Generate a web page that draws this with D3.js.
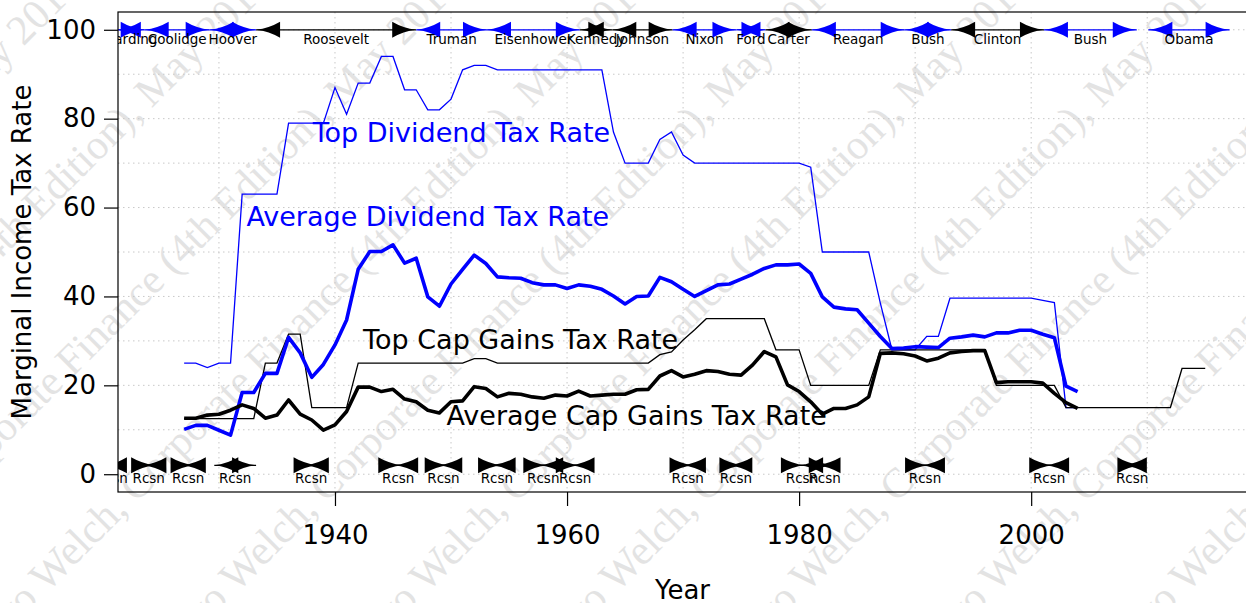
<!DOCTYPE html>
<html>
<head>
<meta charset="utf-8">
<script src="https://cdn.jsdelivr.net/npm/d3@7"></script>
<style>
  body { margin: 0; background: #fff; }
  svg { display: block; font-family: "DejaVu Sans", sans-serif; }
</style>
</head>
<body>
<div id="chart"></div>
<script>
// ---- data ----
const avgStartYear = 1927
const topDivRate = [25, 25, 24, 25, 25, 63, 63, 63, 63, 79, 79, 79, 79, 87, 81, 88, 88, 94, 94, 86.5,
  86.5, 82, 82, 84.4, 91, 92, 92, 91, 91, 91, 91, 91, 91, 91, 91, 91, 91, 77, 70, 70,
  70, 75.3, 77, 71.8, 70, 70, 70, 70, 70, 70, 70, 70, 70, 70, 69.1, 50, 50, 50, 50, 50,
  38.5, 28, 28, 28, 31, 31, 39.6, 39.6, 39.6, 39.6, 39.6, 39.6, 39.6, 39.6, 39.1, 38.6, 15, 15]
const avgDivRate = [10.1, 11.0, 11.0, 9.9, 8.8, 18.4, 18.4, 22.7, 22.7, 30.8, 27.3, 21.8, 24.7, 29.1, 34.7, 46.1, 50.1, 50.1, 51.6, 47.5,
  48.6, 39.9, 37.8, 42.8, 46.1, 49.3, 47.4, 44.4, 44.2, 44.1, 43.1, 42.6, 42.6, 41.8, 42.6, 42.3, 41.6, 40.1, 38.3, 40.0,
  40.1, 44.3, 43.3, 41.6, 40.0, 41.3, 42.6, 42.8, 43.9, 45.0, 46.3, 47.1, 47.1, 47.3, 45.2, 39.9, 37.6, 37.2, 37.0, 34.0,
  31.0, 28.3, 28.4, 28.7, 28.6, 28.5, 30.6, 30.9, 31.3, 30.9, 31.8, 31.8, 32.4, 32.4, 31.5, 30.7, 19.8, 18.6]
const topCapGainsRate = [12.5, 12.5, 12.5, 12.5, 12.5, 12.5, 12.5, 25, 25, 31.5, 31.5, 15, 15, 15, 15, 25, 25, 25, 25, 25,
  25, 25, 25, 25, 25, 26, 26, 25, 25, 25, 25, 25, 25, 25, 25, 25, 25, 25, 25, 25,
  25, 26.9, 27.5, 30.2, 32.5, 35, 35, 35, 35, 35, 35, 28, 28, 28, 20, 20, 20, 20, 20, 20,
  28, 28, 28, 28, 28, 28, 28, 28, 28, 28, 20, 20, 20, 20, 20, 20, 15, 15, 15, 15,
  15, 15, 15, 15, 15, 15, 23.8, 23.8, 23.8]
const avgCapGainsRate = [12.6, 12.6, 13.3, 13.5, 14.4, 15.6, 14.8, 12.6, 13.3, 16.7, 13.5, 12.2, 9.9, 11.1, 14.1, 19.6, 19.6, 18.6, 19.1, 16.9,
  16.3, 14.4, 13.8, 16.3, 16.5, 19.7, 19.3, 17.4, 18.2, 18.0, 17.4, 17.1, 17.8, 17.6, 18.7, 17.6, 17.8, 18.0, 18.0, 19.0,
  19.1, 22.1, 23.3, 21.9, 22.5, 23.3, 23.1, 22.5, 22.3, 24.6, 27.6, 26.4, 20.1, 18.6, 16.3, 13.5, 14.8, 14.8, 15.6, 17.4,
  27.2, 27.3, 27.1, 26.6, 25.5, 26.1, 27.3, 27.6, 27.8, 27.8, 20.6, 20.8, 20.8, 20.8, 20.5, 18.2, 16.1, 14.8]

const presidentNames = ["Harding", "Coolidge", "Hoover", "Roosevelt", "Truman", "Eisenhower", "Kennedy", "Johnson",
  "Nixon", "Ford", "Carter", "Reagan", "Bush", "Clinton", "Bush", "Obama"]
const presidentStart = [1921.2, 1923.6, 1929.2, 1933.2, 1947.0, 1953.1, 1961.1, 1963.9, 1969.1, 1974.6, 1977.1, 1981.1, 1989.1, 1993.1, 2001.1, 2010.1]
const presidentEnd = [1923.6, 1929.2, 1933.2, 1947.0, 1953.1, 1961.1, 1963.9, 1969.1, 1974.6, 1977.1, 1981.1, 1989.1, 1993.1, 2001.1, 2009.1, 2017.1]
const presidentColor = ["blue", "blue", "blue", "black", "blue", "blue", "black", "black",
  "blue", "blue", "black", "blue", "blue", "black", "blue", "blue"]

const recessionStart = [1920.0, 1923.4, 1926.8, 1929.6, 1937.4, 1945.1, 1948.9, 1953.5, 1957.6, 1960.3, 1969.9, 1973.9, 1980.0, 1981.5, 1990.5, 2001.2, 2007.9]
const recessionEnd = [1921.5, 1924.5, 1927.9, 1933.2, 1938.5, 1945.8, 1949.8, 1954.4, 1958.3, 1961.1, 1970.9, 1975.2, 1980.5, 1982.9, 1991.2, 2001.9, 2009.5]

const yTicks = [0, 20, 40, 60, 80, 100]
const xTicks = [1940, 1960, 1980, 2000]
const watermark = "Ivo Welch, Corporate Finance (4th Edition), May 2017 \u00b7 "

// ---- dimensions ----
const dimensions = {
  width: 1246,
  height: 603,
  plotLeft: 118,
  plotRight: 1247,
  plotTop: 12,
  plotBottom: 492,
}

const xScale = d3.scaleLinear()
  .domain([1921.3, 2018.6])
  .range([dimensions.plotLeft, dimensions.plotRight])
const yScale = d3.scaleLinear()
  .domain([-4, 104])
  .range([dimensions.plotBottom, dimensions.plotTop])

const svg = d3.select("#chart").append("svg")
  .attr("width", dimensions.width)
  .attr("height", dimensions.height)

const defs = svg.append("defs")
defs.append("clipPath").attr("id", "plotclip")
  .append("rect")
  .attr("x", dimensions.plotLeft).attr("y", dimensions.plotTop)
  .attr("width", dimensions.plotRight - dimensions.plotLeft)
  .attr("height", dimensions.plotBottom - dimensions.plotTop)
defs.append("clipPath").attr("id", "pageclip")
  .append("rect").attr("width", dimensions.width).attr("height", dimensions.height)

// watermark behind everything
const wm = svg.append("g").attr("clip-path", "url(#pageclip)").attr("fill", "#e3e3e3")
  .style("font-family", "'Liberation Serif', 'DejaVu Serif', serif")
  .style("font-size", "42px")
for (let i = -4; i < 10; i++) {
  wm.append("text")
    .attr("transform", `translate(${i * 190},640) rotate(-45)`)
    .text(watermark.repeat(3))
}

// grid
const grid = svg.append("g").attr("stroke", "#c8c8c8").attr("stroke-dasharray", "1.5,3.5").attr("stroke-width", 1)
grid.selectAll("line.h").data(d3.range(0, 101, 10)).join("line")
  .attr("x1", dimensions.plotLeft).attr("x2", dimensions.plotRight)
  .attr("y1", d => yScale(d)).attr("y2", d => yScale(d))
grid.selectAll("line.v").data(d3.range(1930, 2020, 10)).join("line")
  .attr("y1", dimensions.plotTop).attr("y2", dimensions.plotBottom)
  .attr("x1", d => xScale(d)).attr("x2", d => xScale(d))

const plot = svg.append("g").attr("clip-path", "url(#plotclip)")

// arrow head with concave sides; dir -1 points left, +1 points right
function arrowHead(tipX, y, dir) {
  const L = 24, h = 8
  const bx = tipX - dir * L
  const cx = tipX - dir * L * 0.55
  return `M${tipX},${y} Q${cx},${y - h * 0.2} ${bx},${y - h} L${bx},${y + h} Q${cx},${y + h * 0.2} ${tipX},${y} Z`
}

function drawSpan(g, x0, x1, y, color) {
  g.append("line").attr("x1", x0).attr("x2", x1).attr("y1", y).attr("y2", y)
    .attr("stroke", color).attr("stroke-width", 1.3)
  g.append("path").attr("d", arrowHead(x0, y, -1)).attr("fill", color)
  g.append("path").attr("d", arrowHead(x1, y, 1)).attr("fill", color)
}

// presidents along the top
const presG = plot.append("g")
presidentNames.forEach((name, i) => {
  drawSpan(presG, xScale(presidentStart[i]), xScale(presidentEnd[i]), yScale(100), presidentColor[i])
})
presidentNames.forEach((name, i) => {
  presG.append("text")
    .attr("x", xScale((presidentStart[i] + presidentEnd[i]) / 2))
    .attr("y", yScale(100) + 14)
    .attr("text-anchor", "middle")
    .style("font-size", "13.5px")
    .text(name)
})

// recessions along the bottom
const recG = plot.append("g")
recessionStart.forEach((s, i) => {
  drawSpan(recG, xScale(s), xScale(recessionEnd[i]), yScale(2), "black")
})
recessionStart.forEach((s, i) => {
  recG.append("text")
    .attr("x", xScale((s + recessionEnd[i]) / 2))
    .attr("y", yScale(2) + 18)
    .attr("text-anchor", "middle")
    .style("font-size", "13.5px")
    .text("Rcsn")
})

// series
const lineFrom = (values) => d3.line()
  .x((d, i) => xScale(avgStartYear + i))
  .y(d => yScale(d))(values)

plot.append("path").attr("d", lineFrom(topDivRate))
  .attr("fill", "none").attr("stroke", "blue").attr("stroke-width", 1.3)
plot.append("path").attr("d", lineFrom(topCapGainsRate))
  .attr("fill", "none").attr("stroke", "black").attr("stroke-width", 1.3)
plot.append("path").attr("d", lineFrom(avgDivRate))
  .attr("fill", "none").attr("stroke", "blue").attr("stroke-width", 3.6).attr("stroke-linejoin", "round")
plot.append("path").attr("d", lineFrom(avgCapGainsRate))
  .attr("fill", "none").attr("stroke", "black").attr("stroke-width", 3.6).attr("stroke-linejoin", "round")

// series labels
const labels = [
  { text: "Top Dividend Tax Rate", year: 1950.9, value: 76.8, color: "blue" },
  { text: "Average Dividend Tax Rate", year: 1948.0, value: 57.9, color: "blue" },
  { text: "Top Cap Gains Tax Rate", year: 1956.0, value: 30.4, color: "black" },
  { text: "Average Cap Gains Tax Rate", year: 1966.0, value: 13.3, color: "black" },
]
svg.append("g").selectAll("text").data(labels).join("text")
  .attr("x", d => xScale(d.year))
  .attr("y", d => yScale(d.value))
  .attr("dy", "0.35em")
  .attr("text-anchor", "middle")
  .attr("fill", d => d.color)
  .style("font-size", "27px")
  .text(d => d.text)

// box
svg.append("rect")
  .attr("x", dimensions.plotLeft).attr("y", dimensions.plotTop)
  .attr("width", dimensions.plotRight - dimensions.plotLeft)
  .attr("height", dimensions.plotBottom - dimensions.plotTop)
  .attr("fill", "none").attr("stroke", "black").attr("stroke-width", 1.2)

// axes
const yAxis = svg.append("g")
  .attr("transform", `translate(${dimensions.plotLeft},0)`)
  .call(d3.axisLeft(yScale).tickValues(yTicks).tickSize(14).tickPadding(8))
yAxis.select(".domain").remove()
yAxis.selectAll("text").style("font-size", "26px").style("font-family", "DejaVu Sans").attr("fill", "black")
yAxis.selectAll("line").attr("stroke-width", 1.2)

const xAxis = svg.append("g")
  .attr("transform", `translate(0,${dimensions.plotBottom})`)
  .call(d3.axisBottom(xScale).tickValues(xTicks).tickFormat(d3.format("d")).tickSize(14).tickPadding(20))
xAxis.select(".domain").remove()
xAxis.selectAll("text").style("font-size", "26px").style("font-family", "DejaVu Sans").attr("fill", "black")
xAxis.selectAll("line").attr("stroke-width", 1.2)

svg.append("text")
  .attr("x", (dimensions.plotLeft + dimensions.plotRight) / 2)
  .attr("y", 599)
  .attr("text-anchor", "middle")
  .style("font-size", "26px")
  .text("Year")

svg.append("text")
  .attr("transform", `translate(31,${(dimensions.plotTop + dimensions.plotBottom) / 2}) rotate(-90)`)
  .attr("text-anchor", "middle")
  .style("font-size", "26px")
  .text("Marginal Income Tax Rate")
</script>
</body>
</html>
